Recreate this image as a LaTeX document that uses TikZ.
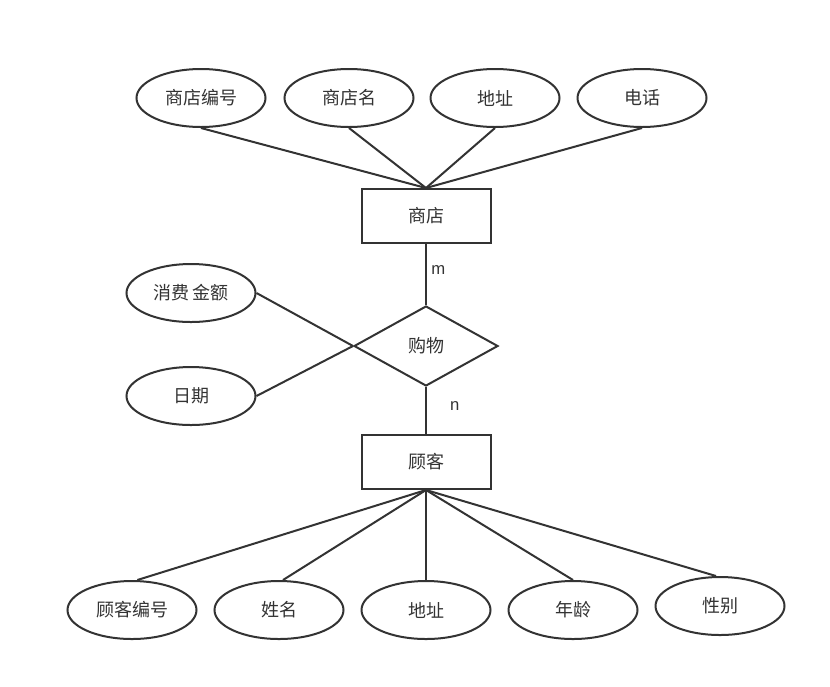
\documentclass[tikz,border=0pt]{standalone}
\usepackage{fontspec}
\setmainfont{Liberation Sans}
\newfontfamily\cjk{Noto Sans CJK SC}
\usetikzlibrary{shapes.geometric}
\definecolor{ink}{HTML}{333333}
\begin{document}
\begin{tikzpicture}[x=0.75pt,y=-0.75pt,
  line width=1.5pt, draw=ink,
  every node/.style={font=\cjk\fontsize{13.5}{15}\selectfont, text=ink},
  attr/.style={ellipse, draw=ink, fill=white, line width=1.5pt, minimum width=129*0.75pt, minimum height=58*0.75pt, inner sep=0pt},
  ent/.style={rectangle, draw=ink, fill=white, line width=1.5pt, minimum width=129*0.75pt, minimum height=54*0.75pt, inner sep=0pt},
  rel/.style={diamond, draw=ink, fill=white, line width=1.5pt, minimum width=144*0.75pt, minimum height=80*0.75pt, inner sep=0pt, aspect=1.8},
  card/.style={font=\fontsize{12.5}{14}\selectfont, text=ink}]
\useasboundingbox (0,0) rectangle (830,686);
% top attributes
\node[attr] (a1) at (201,98) {商店编号};
\node[attr] (a2) at (349,98) {商店名};
\node[attr] (a3) at (495,98) {地址};
\node[attr] (a4) at (642,98) {电话};
\node[ent] (shop) at (426,216) {商店};
% relation
\node[rel] (buy) at (426,346) {购物};
\node[attr] (r1) at (191,293) {消费\,金额};
\node[attr] (r2) at (191,396) {日期};
\node[ent] (cust) at (426,462) {顾客};
% bottom attributes
\node[attr] (b1) at (132,610) {顾客编号};
\node[attr] (b2) at (279,610) {姓名};
\node[attr] (b3) at (426,610) {地址};
\node[attr] (b4) at (573,610) {年龄};
\node[attr] (b5) at (720,606) {性别};
% connectors
\draw[ink] (a1.south) -- (shop.north);
\draw[ink] (a2.south) -- (shop.north);
\draw[ink] (a3.south) -- (shop.north);
\draw[ink] (a4.south) -- (shop.north);
\draw[ink] (shop.south) -- node[card, right, pos=0.42, xshift=0pt] (m) {m} (buy.north);
\draw[ink] (buy.south) -- node[card, right, pos=0.4, xshift=14pt] (n) {n} (cust.north);
\draw[ink] (r1.east) -- (buy.west);
\draw[ink] (r2.east) -- (buy.west);
\draw[ink] (cust.south) -- ([xshift=4pt]b1.north);
\draw[ink] (cust.south) -- ([xshift=3pt]b2.north);
\draw[ink] (cust.south) -- (b3.north);
\draw[ink] (cust.south) -- (b4.north);
\draw[ink] (cust.south) -- ([xshift=-3pt]b5.north);
\end{tikzpicture}
\end{document}
